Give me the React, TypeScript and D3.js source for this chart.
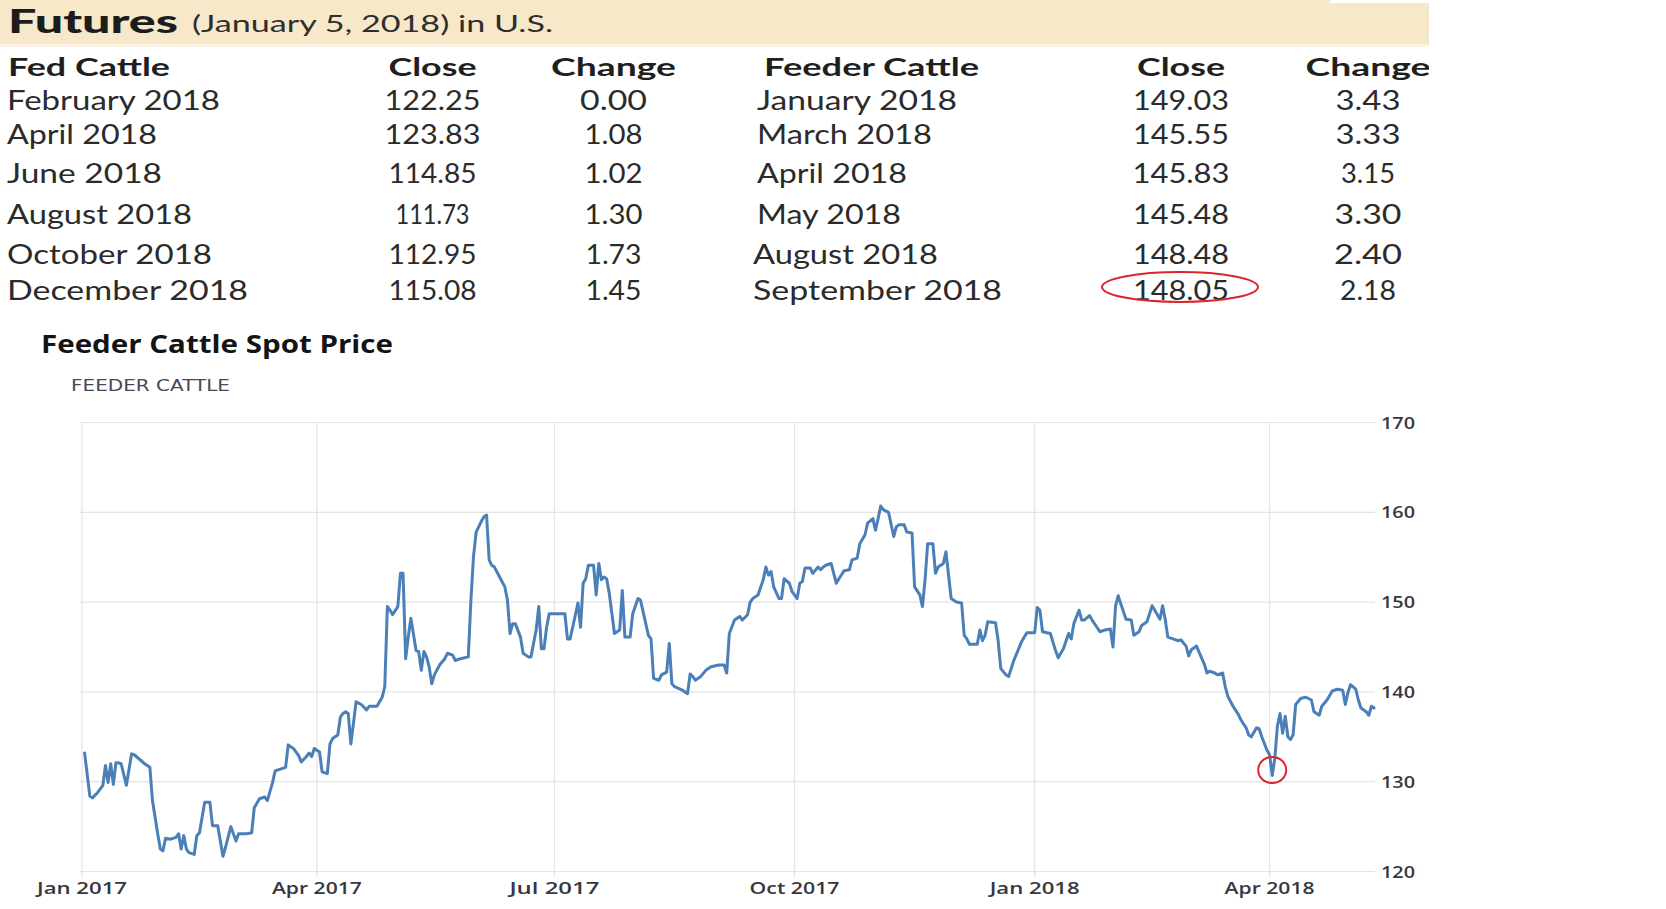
import React from "react";
import * as d3 from "d3";

// ---------------- DATA ----------------
const headerTitle = "Futures";
const headerSubtitle = "(January 5, 2018) in U.S.";

const fedCattleHeader = ["Fed Cattle", "Close", "Change"];
const fedCattleContracts = ["February 2018", "April 2018", "June 2018", "August 2018", "October 2018", "December 2018"];
const fedCattleClose = ["122.25", "123.83", "114.85", "111.73", "112.95", "115.08"];
const fedCattleChange = ["0.00", "1.08", "1.02", "1.30", "1.73", "1.45"];

const feederHeader = ["Feeder Cattle", "Close", "Change"];
const feederContracts = ["January 2018", "March 2018", "April 2018", "May 2018", "August 2018", "September 2018"];
const feederClose = ["149.03", "145.55", "145.83", "145.48", "148.48", "148.05"];
const feederChange = ["3.43", "3.33", "3.15", "3.30", "2.40", "2.18"];
const highlightedClose = "148.05";

const chartTitle = "Feeder Cattle Spot Price";
const seriesName = "FEEDER CATTLE";
const yTickValues = [120, 130, 140, 150, 160, 170];
const xDomain = ["2017-01-01", "2018-05-11"];
const lowPoint: [string, number] = ["2018-04-02", 131.3];

const feederSpot: [string, number][] = [
  ["2017-01-02",133.2],["2017-01-04",128.4],["2017-01-05",128.2],["2017-01-07",128.8],["2017-01-09",129.6],
  ["2017-01-10",131.8],["2017-01-11",129.9],["2017-01-12",132.0],["2017-01-13",129.7],["2017-01-14",132.1],
  ["2017-01-15",132.1],["2017-01-16",132.0],["2017-01-18",129.6],["2017-01-20",133.1],["2017-01-21",133.0],
  ["2017-01-23",132.5],["2017-01-25",132.0],["2017-01-27",131.6],["2017-01-28",127.9],["2017-01-30",124.2],
  ["2017-01-31",122.5],["2017-02-01",122.3],["2017-02-02",123.7],["2017-02-04",123.6],["2017-02-06",123.8],
  ["2017-02-07",124.2],["2017-02-08",122.5],["2017-02-09",124.0],["2017-02-10",122.5],["2017-02-11",122.1],
  ["2017-02-13",121.9],["2017-02-14",124.0],["2017-02-15",124.3],["2017-02-17",127.7],["2017-02-19",127.7],
  ["2017-02-20",125.1],["2017-02-22",125.1],["2017-02-23",123.4],["2017-02-24",121.7],["2017-02-25",122.7],
  ["2017-02-27",125.0],["2017-03-01",123.4],["2017-03-02",124.2],["2017-03-05",124.2],["2017-03-07",124.3],
  ["2017-03-08",127.1],["2017-03-10",128.1],["2017-03-12",128.3],["2017-03-13",127.9],["2017-03-15",129.9],
  ["2017-03-16",131.2],["2017-03-18",131.4],["2017-03-20",131.6],["2017-03-21",134.1],["2017-03-23",133.7],
  ["2017-03-25",132.9],["2017-03-26",132.2],["2017-03-28",132.8],["2017-03-29",133.2],["2017-03-30",132.8],
  ["2017-03-31",133.7],["2017-04-02",133.3],["2017-04-03",131.1],["2017-04-05",130.9],["2017-04-06",134.2],
  ["2017-04-07",134.8],["2017-04-09",135.2],["2017-04-10",137.2],["2017-04-11",137.6],["2017-04-12",137.8],
  ["2017-04-13",137.6],["2017-04-14",134.2],["2017-04-15",136.5],["2017-04-16",138.9],["2017-04-18",138.6],
  ["2017-04-20",138.0],["2017-04-21",138.4],["2017-04-24",138.4],["2017-04-26",139.4],["2017-04-27",140.6],
  ["2017-04-28",149.5],["2017-04-29",149.1],["2017-04-30",148.6],["2017-05-02",149.5],["2017-05-03",153.2],
  ["2017-05-04",153.2],["2017-05-05",143.7],["2017-05-06",146.1],["2017-05-07",148.2],["2017-05-09",144.6],
  ["2017-05-10",144.5],["2017-05-11",142.4],["2017-05-12",144.5],["2017-05-13",143.9],["2017-05-14",142.8],
  ["2017-05-15",140.9],["2017-05-16",141.9],["2017-05-18",143.0],["2017-05-20",143.7],["2017-05-21",144.3],
  ["2017-05-23",144.1],["2017-05-24",143.5],["2017-05-26",143.7],["2017-05-29",143.9],["2017-05-30",150.2],
  ["2017-05-31",155.1],["2017-06-01",157.8],["2017-06-03",159.0],["2017-06-04",159.5],["2017-06-05",159.7],
  ["2017-06-06",154.7],["2017-06-07",154.1],["2017-06-08",153.9],["2017-06-10",152.8],["2017-06-12",151.7],
  ["2017-06-13",150.2],["2017-06-14",146.5],["2017-06-15",147.6],["2017-06-16",147.6],["2017-06-18",146.1],
  ["2017-06-19",144.3],["2017-06-21",143.9],["2017-06-22",143.9],["2017-06-24",146.9],["2017-06-25",149.5],
  ["2017-06-26",144.8],["2017-06-27",144.8],["2017-06-28",147.2],["2017-06-29",148.7],["2017-07-05",148.7],
  ["2017-07-06",145.9],["2017-07-07",145.9],["2017-07-08",147.2],["2017-07-10",149.9],["2017-07-11",147.2],
  ["2017-07-12",152.1],["2017-07-13",152.6],["2017-07-14",154.1],["2017-07-16",154.1],["2017-07-17",150.8],
  ["2017-07-18",154.3],["2017-07-19",152.5],["2017-07-20",152.8],["2017-07-21",152.6],["2017-07-22",151.0],
  ["2017-07-24",146.5],["2017-07-26",146.9],["2017-07-27",151.3],["2017-07-28",146.1],["2017-07-30",146.1],
  ["2017-07-31",148.7],["2017-08-02",150.4],["2017-08-03",150.2],["2017-08-04",148.9],["2017-08-06",146.3],
  ["2017-08-07",145.9],["2017-08-08",141.5],["2017-08-10",141.3],["2017-08-11",141.9],["2017-08-13",142.2],
  ["2017-08-14",145.4],["2017-08-15",140.9],["2017-08-16",140.6],["2017-08-19",140.2],["2017-08-21",139.8],
  ["2017-08-22",142.0],["2017-08-23",141.7],["2017-08-24",141.3],["2017-08-26",141.7],["2017-08-28",142.4],
  ["2017-08-30",142.8],["2017-09-02",143.0],["2017-09-04",143.0],["2017-09-05",142.1],["2017-09-06",146.5],
  ["2017-09-08",148.0],["2017-09-10",148.4],["2017-09-11",148.0],["2017-09-13",148.6],["2017-09-14",150.0],
  ["2017-09-15",150.4],["2017-09-17",150.8],["2017-09-19",152.5],["2017-09-20",153.9],["2017-09-21",153.0],
  ["2017-09-22",153.4],["2017-09-23",151.7],["2017-09-25",150.4],["2017-09-26",150.4],["2017-09-27",152.6],
  ["2017-09-29",152.1],["2017-09-30",151.2],["2017-10-02",150.4],["2017-10-03",152.1],["2017-10-04",152.3],
  ["2017-10-05",153.8],["2017-10-07",153.8],["2017-10-08",153.2],["2017-10-10",153.9],["2017-10-11",153.6],
  ["2017-10-12",153.9],["2017-10-13",154.1],["2017-10-15",154.3],["2017-10-17",152.1],["2017-10-18",152.6],
  ["2017-10-20",153.5],["2017-10-22",153.6],["2017-10-23",154.7],["2017-10-25",154.9],["2017-10-26",156.5],
  ["2017-10-28",157.5],["2017-10-29",158.8],["2017-10-31",159.3],["2017-11-01",158.0],["2017-11-02",159.3],
  ["2017-11-03",160.7],["2017-11-04",160.3],["2017-11-06",160.0],["2017-11-08",157.3],["2017-11-09",158.4],
  ["2017-11-10",158.6],["2017-11-12",158.6],["2017-11-13",157.8],["2017-11-15",157.7],["2017-11-16",151.7],
  ["2017-11-18",150.8],["2017-11-19",149.5],["2017-11-20",152.5],["2017-11-21",156.5],["2017-11-23",156.5],
  ["2017-11-24",153.2],["2017-11-25",153.9],["2017-11-27",154.3],["2017-11-28",155.6],["2017-11-30",150.4],
  ["2017-12-02",150.0],["2017-12-04",149.9],["2017-12-05",146.3],["2017-12-06",145.9],["2017-12-07",145.3],
  ["2017-12-10",145.3],["2017-12-11",146.9],["2017-12-12",145.7],["2017-12-13",146.3],["2017-12-14",147.8],
  ["2017-12-17",147.7],["2017-12-18",145.7],["2017-12-19",142.6],["2017-12-21",141.9],["2017-12-22",141.7],
  ["2017-12-24",143.5],["2017-12-27",145.6],["2017-12-29",146.6],["2018-01-01",146.6],["2018-01-02",149.4],
  ["2018-01-03",149.1],["2018-01-04",146.7],["2018-01-07",146.5],["2018-01-09",144.6],["2018-01-10",143.8],
  ["2018-01-12",144.8],["2018-01-14",146.5],["2018-01-15",145.9],["2018-01-16",147.6],["2018-01-18",149.1],
  ["2018-01-19",148.0],["2018-01-20",148.0],["2018-01-22",148.5],["2018-01-23",148.0],["2018-01-26",146.7],
  ["2018-01-28",146.9],["2018-01-30",147.0],["2018-01-31",145.0],["2018-02-01",149.6],["2018-02-02",150.7],
  ["2018-02-03",149.8],["2018-02-05",148.1],["2018-02-07",148.0],["2018-02-08",146.3],["2018-02-10",146.7],
  ["2018-02-11",147.4],["2018-02-13",147.8],["2018-02-15",149.6],["2018-02-16",149.1],["2018-02-18",148.1],
  ["2018-02-19",149.6],["2018-02-20",148.1],["2018-02-21",146.1],["2018-02-23",145.9],["2018-02-25",145.7],
  ["2018-02-26",145.8],["2018-02-28",145.1],["2018-03-01",144.0],["2018-03-02",144.7],["2018-03-04",145.1],
  ["2018-03-05",144.4],["2018-03-07",143.1],["2018-03-08",142.1],["2018-03-09",142.3],["2018-03-11",142.1],
  ["2018-03-12",141.9],["2018-03-14",142.1],["2018-03-15",140.6],["2018-03-16",139.5],["2018-03-18",138.4],
  ["2018-03-20",137.5],["2018-03-21",136.9],["2018-03-23",136.0],["2018-03-24",135.2],["2018-03-25",135.0],
  ["2018-03-27",136.0],["2018-03-28",135.9],["2018-03-29",135.0],["2018-03-31",133.5],["2018-04-01",133.0],
  ["2018-04-02",130.7],["2018-04-03",132.6],["2018-04-04",136.2],["2018-04-05",137.6],["2018-04-06",135.4],
  ["2018-04-07",137.3],["2018-04-08",135.0],["2018-04-09",134.7],["2018-04-10",135.2],["2018-04-11",138.6],
  ["2018-04-13",139.3],["2018-04-15",139.4],["2018-04-17",139.1],["2018-04-18",137.8],["2018-04-20",137.4],
  ["2018-04-21",138.4],["2018-04-23",139.1],["2018-04-25",140.1],["2018-04-27",140.3],["2018-04-29",140.2],
  ["2018-04-30",138.6],["2018-05-01",139.9],["2018-05-02",140.8],["2018-05-04",140.3],["2018-05-05",139.1],
  ["2018-05-06",138.2],["2018-05-08",137.8],["2018-05-09",137.4],["2018-05-10",138.4],["2018-05-11",138.2],
];

// ---------------- LAYOUT ----------------
const W = 1666;
const H = 909;
const CLIP_RIGHT = 1429;
const rowBaselines = [110, 143.5, 183, 224, 263.5, 300];
const headerBaseline = 76;
const leftCols = { name: 7, close: 432.5, change: 613.5 };
const rightCols = { nameHeader: 764, close: 1181, change: 1368 };
const rightNameX = [757, 757, 757, 757, 753, 753];

// measured rendered widths of each text in the reference (horizontal stretch)
const textWidths: Record<string, number> = {
  "Fed Cattle": 162, "Feeder Cattle": 215, Close: 88, Change: 125,
  "February 2018": 213, "April 2018": 150, "June 2018": 155, "August 2018": 185,
  "October 2018": 205, "December 2018": 241, "January 2018": 200, "March 2018": 175,
  "May 2018": 144, "September 2018": 249,
  "122.25": 96, "123.83": 96, "114.85": 88, "111.73": 74, "112.95": 88, "115.08": 88,
  "149.03": 96, "145.55": 96, "145.83": 97, "145.48": 96, "148.48": 96, "148.05": 96,
  "0.00": 67, "1.08": 58, "1.02": 58, "1.30": 58, "1.73": 56, "1.45": 56,
  "3.43": 65, "3.33": 65, "3.15": 54, "3.30": 67, "2.40": 68, "2.18": 56,
};

const plot = { left: 82, right: 1374, top: 422.5, bottom: 871.5 };

const tableFont = "Lato, 'Open Sans', sans-serif";
const chartFont = "'Open Sans', 'DejaVu Sans', sans-serif";

const parse = d3.timeParse("%Y-%m-%d");

function T(props: { x: number; y: number; text: string; size: number; weight?: number; anchor?: string; fill?: string; font?: string; len?: number }) {
  const { x, y, text, size, weight = 400, anchor = "start", fill = "#2b2b2b", font = tableFont, len } = props;
  const L = len ?? textWidths[text];
  return (
    <text
      x={x}
      y={y}
      fontSize={size}
      fontWeight={weight}
      fontFamily={font}
      textAnchor={anchor}
      fill={fill}
      {...(L ? { textLength: L, lengthAdjust: "spacingAndGlyphs" } : {})}
    >
      {text}
    </text>
  );
}

export default function App() {
  const data = feederSpot.map(([d, v]) => ({ date: parse(d) as Date, value: v }));
  const x = d3
    .scaleTime()
    .domain([parse(xDomain[0]) as Date, parse(xDomain[1]) as Date])
    .range([plot.left, plot.right]);
  const y = d3.scaleLinear().domain([120, 170]).range([plot.bottom, plot.top]);
  const xTicks = x.ticks(d3.timeMonth.every(3) as any);
  const fmt = d3.timeFormat("%b %Y");
  const line = d3
    .line<{ date: Date; value: number }>()
    .x((d) => x(d.date))
    .y((d) => y(d.value));

  const hlIndex = feederClose.indexOf(highlightedClose);

  return (
    <div style={{ position: "absolute", left: 0, top: 0 }}>
      <svg width={W} height={H} style={{ display: "block", background: "#fff" }}>
        <defs>
          <clipPath id="pageClip">
            <rect x={0} y={0} width={CLIP_RIGHT} height={H} />
          </clipPath>
        </defs>
        <g clipPath="url(#pageClip)">
          {/* header band */}
          <rect x={0} y={0} width={CLIP_RIGHT} height={44} fill="#f6e8c8" />
          <rect x={0} y={44} width={CLIP_RIGHT} height={3} fill="#fbf4e4" />
          <rect x={1330} y={0} width={100} height={3} fill="#ffffff" />
          <T x={8} y={33} text={headerTitle} size={33} weight={900} fill="#1c1c1c" len={170} />
          <T x={192} y={32} text={headerSubtitle} size={24} fill="#2e2e2e" len={361} />

          {/* left table */}
          <T x={8} y={headerBaseline} text={fedCattleHeader[0]} size={25} weight={700} fill="#1f1f1f" />
          <T x={leftCols.close} y={headerBaseline} text={fedCattleHeader[1]} size={25} weight={700} anchor="middle" fill="#1f1f1f" />
          <T x={leftCols.change} y={headerBaseline} text={fedCattleHeader[2]} size={25} weight={700} anchor="middle" fill="#1f1f1f" />
          {fedCattleContracts.map((c, i) => (
            <g key={"l" + i}>
              <T x={leftCols.name} y={rowBaselines[i]} text={c} size={27} />
              <T x={leftCols.close} y={rowBaselines[i]} text={fedCattleClose[i]} size={27} anchor="middle" />
              <T x={leftCols.change} y={rowBaselines[i]} text={fedCattleChange[i]} size={27} anchor="middle" />
            </g>
          ))}

          {/* right table */}
          <T x={rightCols.nameHeader} y={headerBaseline} text={feederHeader[0]} size={25} weight={700} fill="#1f1f1f" />
          <T x={rightCols.close} y={headerBaseline} text={feederHeader[1]} size={25} weight={700} anchor="middle" fill="#1f1f1f" />
          <T x={rightCols.change} y={headerBaseline} text={feederHeader[2]} size={25} weight={700} anchor="middle" fill="#1f1f1f" />
          {feederContracts.map((c, i) => (
            <g key={"r" + i}>
              <T x={rightNameX[i]} y={rowBaselines[i]} text={c} size={27} />
              <T x={rightCols.close} y={rowBaselines[i]} text={feederClose[i]} size={27} anchor="middle" />
              <T x={rightCols.change} y={rowBaselines[i]} text={feederChange[i]} size={27} anchor="middle" />
            </g>
          ))}
          {hlIndex >= 0 && (
            <ellipse
              cx={rightCols.close - 1}
              cy={rowBaselines[hlIndex] - 13}
              rx={78}
              ry={15}
              fill="none"
              stroke="#d9262d"
              strokeWidth={2}
            />
          )}

          {/* chart titles */}
          <T x={41} y={353} text={chartTitle} size={25} weight={700} fill="#141414" font={chartFont} len={352} />
          <T x={71} y={391} text={seriesName} size={15} weight={400} fill="#4a4757" font="'DejaVu Sans', sans-serif" len={159} />

          {/* grid */}
          {yTickValues.map((v) => (
            <line key={"h" + v} x1={plot.left - 2} x2={plot.right + 1} y1={y(v)} y2={y(v)} stroke="#e4e4e4" strokeWidth={1.2} />
          ))}
          {xTicks.map((t, i) => (
            <line key={"v" + i} x1={x(t)} x2={x(t)} y1={plot.top} y2={plot.bottom + 6} stroke="#e4e4e4" strokeWidth={1.2} />
          ))}

          {/* axis labels */}
          {xTicks.map((t, i) => (
            <T key={"xl" + i} x={x(t)} y={894} text={fmt(t)} size={16} weight={600} anchor="middle" fill="#383640" font={chartFont} len={90} />
          ))}
          {yTickValues.map((v) => (
            <T key={"yl" + v} x={1381} y={y(v) + 6} text={String(v)} size={16} weight={600} fill="#383640" font={chartFont} len={34} />
          ))}

          {/* series */}
          <path d={line(data) || ""} fill="none" stroke="#4a7fb7" strokeWidth={3} strokeLinejoin="round" strokeLinecap="round" />

          {/* low point highlight */}
          <ellipse
            cx={x(parse(lowPoint[0]) as Date)}
            cy={y(lowPoint[1])}
            rx={14}
            ry={13}
            fill="none"
            stroke="#e0222b"
            strokeWidth={2}
          />
        </g>
      </svg>
    </div>
  );
}
